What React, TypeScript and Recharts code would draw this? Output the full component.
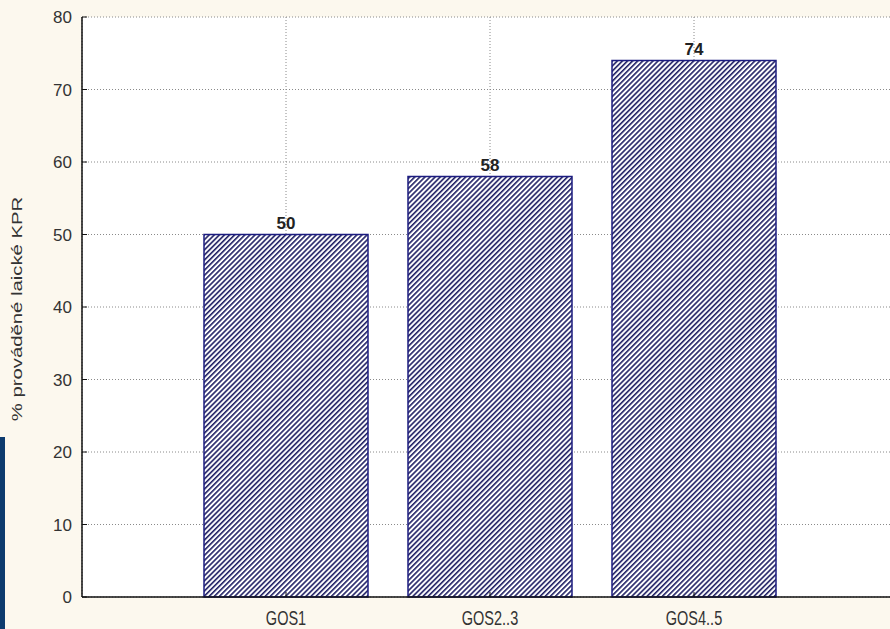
import { Bar, BarChart, CartesianGrid, LabelList, XAxis, YAxis } from "recharts"

const categories = ["GOS1", "GOS2..3", "GOS4..5"]
const percentValues = [50, 58, 74]
const yTicks = [0, 10, 20, 30, 40, 50, 60, 70, 80]
const yLabel = "% prováděné laické KPR"

const data = categories.map((name, i) => ({ name, value: percentValues[i] }))

const NAVY = "#202064"
const TEXT = "#333333"

function XTick(props: any) {
  const { x, y, payload } = props
  return (
    <g transform={`translate(${x},${y})`}>
      <text
        transform="scale(1,1.35)"
        y={18.5}
        textAnchor="middle"
        fill={TEXT}
        fontSize={14.5}
        fontFamily="'Liberation Sans', Arial, sans-serif"
      >
        {payload.value}
      </text>
    </g>
  )
}

function YTitle(props: any) {
  const { viewBox } = props
  const cx = viewBox.x + 17
  const cy = viewBox.y + viewBox.height / 2 + 2
  return (
    <text
      transform={`translate(${cx},${cy}) rotate(-90) scale(1.4,1)`}
      textAnchor="middle"
      dominantBaseline="central"
      fill={TEXT}
      fontSize={14.5}
      fontFamily="'Liberation Sans', Arial, sans-serif"
    >
      {yLabel}
    </text>
  )
}

export default function App() {
  return (
    <div
      style={{
        position: "absolute",
        left: 0,
        top: 0,
        width: 890,
        height: 629,
        overflow: "hidden",
        background: "#fcf8ee",
      }}
    >
      <BarChart
        width={900}
        height={629}
        data={data}
        margin={{ top: 17, right: 2, bottom: 0, left: 0 }}
      >
        <defs>
          <pattern
            id="hatch"
            patternUnits="userSpaceOnUse"
            width={3.6}
            height={3.6}
            patternTransform="rotate(45)"
          >
            <rect width={3.6} height={3.6} fill="#ffffff" />
            <line x1={0.8} y1={0} x2={0.8} y2={3.6} stroke={NAVY} strokeWidth={1.6} />
          </pattern>
        </defs>
        <CartesianGrid fill="#ffffff" stroke="#8a8a8a" strokeDasharray="1 2" />
        <XAxis
          dataKey="name"
          height={32}
          padding={{ left: 102, right: 102 }}
          axisLine={{ stroke: "#111", strokeWidth: 1.5 }}
          tickLine={{ stroke: "#111" }}
          tickSize={-5}
          tickMargin={8}
          tick={<XTick />}
          interval={0}
        />
        <XAxis
          xAxisId="top"
          orientation="top"
          dataKey="name"
          height={0}
          padding={{ left: 102, right: 102 }}
          axisLine={{ stroke: "#111", strokeWidth: 1.5 }}
          tickLine={{ stroke: "#111" }}
          tickSize={-5}
          tick={false}
          interval={0}
        />
        <YAxis
          width={82}
          domain={[0, 80]}
          ticks={yTicks}
          interval={0}
          axisLine={{ stroke: "#111", strokeWidth: 1.5 }}
          tickLine={{ stroke: "#111" }}
          tickSize={-5}
          tickMargin={15}
          tick={{ fill: TEXT, fontSize: 17, fontFamily: "'Liberation Sans', Arial, sans-serif" }}
          label={<YTitle />}
        />
        <Bar
          dataKey="value"
          barSize={164}
          fill="url(#hatch)"
          stroke="#1c1c80"
          strokeWidth={1.5}
          isAnimationActive={false}
        >
          <LabelList
            dataKey="value"
            position="top"
            offset={6}
            fill="#222"
            fontSize={17}
            fontWeight="bold"
            fontFamily="'Liberation Sans', Arial, sans-serif"
          />
        </Bar>
      </BarChart>
      <div
        style={{
          position: "absolute",
          left: 0,
          top: 437,
          width: 5,
          height: 192,
          background: "#0d3b6e",
        }}
      />
    </div>
  )
}
